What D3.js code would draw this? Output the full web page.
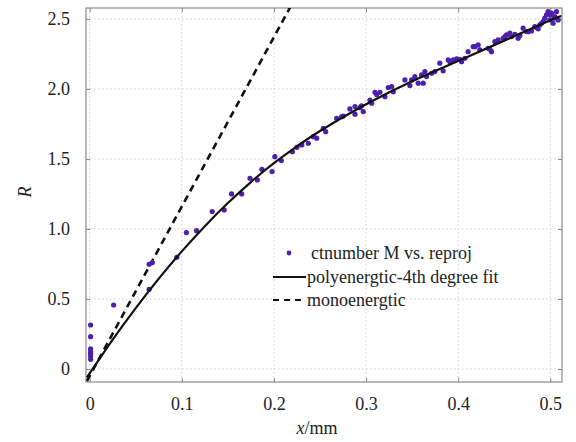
<!DOCTYPE html>
<html>
<head>
<meta charset="utf-8">
<script src="https://cdn.jsdelivr.net/npm/d3@7"></script>
<style>
  body { margin: 0; background: #fff; }
  svg text { font-family: "Liberation Serif"; }
</style>
</head>
<body>
<div id="chart"></div>
<script>
var FONT = "Liberation Serif";

// measured points: ctnumber M vs. reproj
var ptX = [0.001, 0.001, 0.001, 0.001, 0.001, 0.001, 0.001,
    0.026, 0.0645, 0.068, 0.0645, 0.0946, 0.105, 0.116, 0.133, 0.146, 0.154, 0.165,
    0.174, 0.182, 0.187, 0.198, 0.201, 0.208, 0.220, 0.225,
    0.2302, 0.2373, 0.2427, 0.2464, 0.2536, 0.2562, 0.2681, 0.2735, 0.2753, 0.2825, 0.2880,
    0.2934, 0.2970, 0.3042, 0.3061, 0.3097, 0.3151, 0.3205, 0.3241, 0.3278, 0.3295, 0.3422,
    0.3476, 0.3495, 0.3530, 0.3566, 0.3603, 0.3639, 0.3657, 0.3712, 0.3747, 0.3801, 0.3837,
    0.3910, 0.3946, 0.3983, 0.4037, 0.4073, 0.4108, 0.4163, 0.4217, 0.4235, 0.4325, 0.4362,
    0.4398, 0.4434, 0.4488, 0.4525, 0.4579, 0.4615, 0.4651, 0.4705, 0.4742, 0.4796, 0.4832,
    0.4868, 0.4905, 0.4940, 0.4959, 0.4976, 0.4995, 0.5013, 0.5030, 0.5049, 0.5067, 0.5085,
    0.2880, 0.2950, 0.3115, 0.3620, 0.3892, 0.4018, 0.4181, 0.4344, 0.4507, 0.4561, 0.4669,
    0.4759, 0.4850, 0.4886, 0.4922, 0.5000, 0.5040];
var ptR = [0.314, 0.231, 0.143, 0.124, 0.112, 0.093, 0.069,
    0.457, 0.748, 0.760, 0.569, 0.798, 0.974, 0.988, 1.124, 1.136, 1.250, 1.250,
    1.362, 1.350, 1.426, 1.410, 1.516, 1.488, 1.552, 1.583,
    1.600, 1.612, 1.659, 1.648, 1.719, 1.695, 1.790, 1.802, 1.806, 1.857, 1.820,
    1.866, 1.838, 1.921, 1.898, 1.976, 1.976, 1.945, 2.010, 2.016, 1.980, 2.064,
    2.024, 2.064, 2.088, 2.041, 2.100, 2.124, 2.088, 2.112, 2.124, 2.184, 2.129,
    2.195, 2.207, 2.214, 2.195, 2.219, 2.266, 2.302, 2.314, 2.279, 2.290, 2.266,
    2.338, 2.350, 2.362, 2.386, 2.374, 2.390, 2.362, 2.434, 2.410, 2.414, 2.445,
    2.429, 2.469, 2.505, 2.529, 2.552, 2.493, 2.541, 2.469, 2.516, 2.552, 2.493,
    1.874, 1.880, 1.960, 2.041, 2.207, 2.212, 2.302, 2.284, 2.374, 2.398, 2.380,
    2.409, 2.438, 2.457, 2.481, 2.529, 2.505];

// polyenergetic fit curve
var fitX = [-0.003, 0.025, 0.05, 0.075, 0.1, 0.125, 0.15, 0.175, 0.2, 0.225, 0.25, 0.3, 0.35, 0.4, 0.45, 0.5, 0.512];
var fitR = [-0.06, 0.21, 0.435, 0.645, 0.84, 1.02, 1.185, 1.335, 1.47, 1.59, 1.70, 1.89, 2.055, 2.20, 2.345, 2.49, 2.52];

// monoenergetic line end points
var monoX = [-0.003, 0.22];
var monoR = [-0.086, 2.612];

var xTicks = [0, 0.1, 0.2, 0.3, 0.4, 0.5];
var xTickLabels = ["0", "0.1", "0.2", "0.3", "0.4", "0.5"];
var yTicks = [0, 0.5, 1.0, 1.5, 2.0, 2.5];
var yTickLabels = ["0", "0.5", "1.0", "1.5", "2.0", "2.5"];

var legendLabels = ["ctnumber M vs. reproj", "polyenergtic-4th degree fit", "monoenergtic"];

var W = 576, H = 442;
var plot = { left: 86, right: 562, top: 8, bottom: 382 };
var dotColor = "#4c20ac";

var svg = d3.select("#chart").append("svg")
    .attr("width", W)
    .attr("height", H);

var x = d3.scaleLinear().domain([-0.004, 0.5127]).range([plot.left, plot.right]);
var y = d3.scaleLinear().domain([-0.093, 2.578]).range([plot.bottom, plot.top]);

svg.append("clipPath").attr("id", "clip")
    .append("rect")
    .attr("x", plot.left).attr("y", plot.top)
    .attr("width", plot.right - plot.left).attr("height", plot.bottom - plot.top);

// grid
var grid = svg.append("g");
xTicks.forEach(function(t){
    grid.append("line")
        .attr("x1", x(t)).attr("x2", x(t))
        .attr("y1", plot.top).attr("y2", plot.bottom)
        .attr("stroke", "#cfcfcf").attr("stroke-dasharray", "1.5,2.5");
});
yTicks.forEach(function(t){
    grid.append("line")
        .attr("x1", plot.left).attr("x2", plot.right)
        .attr("y1", y(t)).attr("y2", y(t))
        .attr("stroke", "#cfcfcf").attr("stroke-dasharray", "1.5,2.5");
});

// axes with inward ticks on all four sides
var axisStyle = function(g){
    g.attr("font-family", FONT);
    g.select(".domain").remove();
    g.selectAll(".tick line").attr("stroke", "#888");
    g.selectAll(".tick text").style("font-size", "18px").attr("fill", "#222");
};
svg.append("g").attr("transform", "translate(0," + plot.bottom + ")")
    .call(d3.axisBottom(x).tickValues(xTicks).tickSizeInner(-4).tickPadding(15)
        .tickFormat(function(d, i){ return xTickLabels[i]; }))
    .call(axisStyle);
svg.append("g").attr("transform", "translate(0," + plot.top + ")")
    .call(d3.axisTop(x).tickValues(xTicks).tickSizeInner(-4).tickFormat(""))
    .call(axisStyle);
svg.append("g").attr("transform", "translate(" + plot.left + ",0)")
    .call(d3.axisLeft(y).tickValues(yTicks).tickSizeInner(-4).tickPadding(16)
        .tickFormat(function(d, i){ return yTickLabels[i]; }))
    .call(axisStyle);
svg.append("g").attr("transform", "translate(" + plot.right + ",0)")
    .call(d3.axisRight(y).tickValues(yTicks).tickSizeInner(-4).tickFormat(""))
    .call(axisStyle);

// frame
svg.append("rect")
    .attr("x", plot.left).attr("y", plot.top)
    .attr("width", plot.right - plot.left).attr("height", plot.bottom - plot.top)
    .attr("fill", "none").attr("stroke", "#8a8a8a").attr("stroke-width", 1.2);

var body = svg.append("g").attr("clip-path", "url(#clip)");

// monoenergetic dashed line
body.append("path")
    .datum(d3.zip(monoX, monoR))
    .attr("d", d3.line().x(function(d){ return x(d[0]); }).y(function(d){ return y(d[1]); }))
    .attr("fill", "none").attr("stroke", "#111").attr("stroke-width", 2.6)
    .attr("stroke-dasharray", "7,5");

// points
body.selectAll("circle.pt")
    .data(d3.zip(ptX, ptR))
    .enter().append("circle")
    .attr("class", "pt")
    .attr("cx", function(d){ return x(d[0]); })
    .attr("cy", function(d){ return y(d[1]); })
    .attr("r", 2.6)
    .attr("fill", dotColor);

// fit curve
body.append("path")
    .datum(d3.zip(fitX, fitR))
    .attr("d", d3.line().curve(d3.curveNatural)
        .x(function(d){ return x(d[0]); }).y(function(d){ return y(d[1]); }))
    .attr("fill", "none").attr("stroke", "#111").attr("stroke-width", 2.2);

// legend
var lg = svg.append("g").attr("font-family", FONT);
var rows = [253, 277, 300];
lg.append("circle").attr("cx", 289).attr("cy", rows[0]).attr("r", 2.4).attr("fill", dotColor);
lg.append("line").attr("x1", 273).attr("x2", 306).attr("y1", rows[1]).attr("y2", rows[1])
    .attr("stroke", "#111").attr("stroke-width", 2.2);
lg.append("line").attr("x1", 273).attr("x2", 306).attr("y1", rows[2]).attr("y2", rows[2])
    .attr("stroke", "#111").attr("stroke-width", 2).attr("stroke-dasharray", "6,5");
legendLabels.forEach(function(t, i){
    lg.append("text")
        .attr("x", i == 0 ? 311 : 307).attr("y", rows[i] + 6)
        .style("font-size", "18px").attr("fill", "#222")
        .text(t);
});

// axis titles
var xt = svg.append("text")
    .attr("x", 317).attr("y", 434)
    .attr("text-anchor", "middle")
    .style("font-size", "18px").attr("fill", "#222");
xt.append("tspan").attr("font-style", "italic").text("x");
xt.append("tspan").text("/mm");

svg.append("text")
    .attr("transform", "translate(31,192) rotate(-90)")
    .attr("text-anchor", "middle")
    .attr("font-style", "italic")
    .style("font-size", "18px").attr("fill", "#222")
    .text("R");
</script>
</body>
</html>
